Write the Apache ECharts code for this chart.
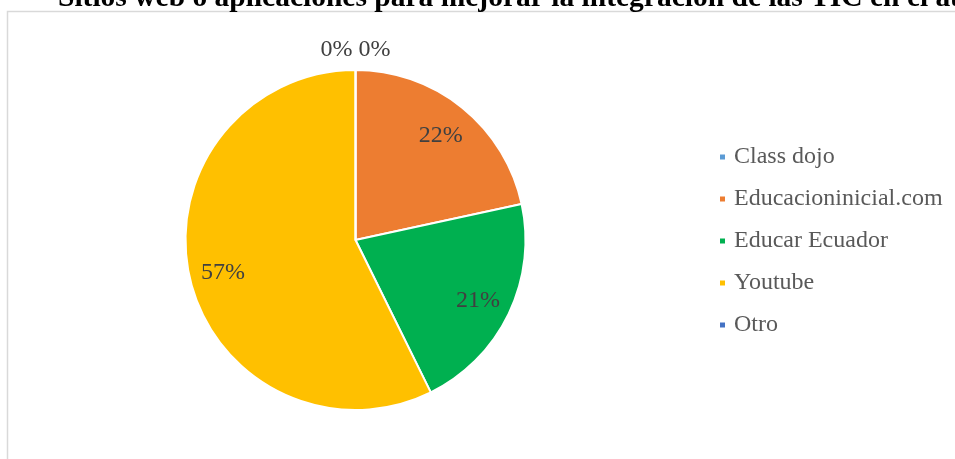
<!DOCTYPE html>
<html>
<head>
<meta charset="utf-8">
<script src="https://cdn.jsdelivr.net/npm/echarts@6/dist/echarts.min.js"></script>
<style>
html,body{margin:0;padding:0;background:#fff;}
#chart{width:955px;height:459px;}
</style>
</head>
<body>
<div id="chart"></div>
<script>
var titleText = 'Sitios web o aplicaciones para mejorar la integración de las TIC en el aula';
var categories = ['Class dojo', 'Educacioninicial.com', 'Educar Ecuador', 'Youtube', 'Otro'];
var values = [0, 21.6, 21.1, 57.3, 0];
var colors = ['#5B9BD5', '#ED7D31', '#00B050', '#FFC000', '#4472C4'];

var CX = 355.5, CY = 240, R = 170;
var FONT = '"Liberation Serif", "Times New Roman", serif';

var chart = echarts.init(document.getElementById('chart'), null, {renderer: 'canvas'});
chart.setOption({
  backgroundColor: '#fff',
  animation: false,
  color: colors,
  graphic: [
    {type: 'rect', shape: {x: 7.5, y: 11.5, width: 2000, height: 2000}, style: {fill: 'none', stroke: '#d9d9d9', lineWidth: 1.5}, silent: true, z: -10},
    {type: 'text', left: 58, top: -17, style: {text: titleText, font: 'bold 29.5px ' + FONT, fill: '#000'}}
  ],
  legend: {
    orient: 'vertical',
    left: 718,
    top: 145,
    padding: 0,
    icon: 'rect',
    itemWidth: 7,
    itemHeight: 7,
    itemGap: 18,
    data: categories,
    textStyle: {fontFamily: FONT, fontSize: 24, color: '#595959', lineHeight: 24, padding: [0, 0, 0, 3]}
  },
  series: [{
    type: 'pie',
    center: [CX, CY],
    radius: R,
    startAngle: 90,
    clockwise: true,
    avoidLabelOverlap: false,
    percentPrecision: 0,
    itemStyle: {borderColor: '#fff', borderWidth: 2},
    label: {
      show: true,
      position: 'inside',
      formatter: '{d}%',
      fontFamily: FONT,
      fontSize: 24,
      color: '#404040'
    },
    labelLine: {show: false},
    emphasis: {disabled: true},
    labelLayout: function (p) {
      var lr = p.labelRect;
      var lx = lr.x + lr.width / 2, ly = lr.y + lr.height / 2;
      var v = values[p.dataIndex];
      if (v === 0) {
        var side = p.dataIndex === 0 ? 1 : -1;
        return {x: CX + side * 19, y: CY - R - 20, align: 'center', verticalAlign: 'middle'};
      }
      var ddx = lx - CX, ddy = ly - CY;
      var d = Math.sqrt(ddx * ddx + ddy * ddy) || 1;
      return {x: CX + ddx / d * R * 0.8, y: CY + ddy / d * R * 0.8 + 2, align: 'center', verticalAlign: 'middle'};
    },
    data: categories.map(function (c, i) { return {name: c, value: values[i]}; })
  }]
});
</script>
</body>
</html>
